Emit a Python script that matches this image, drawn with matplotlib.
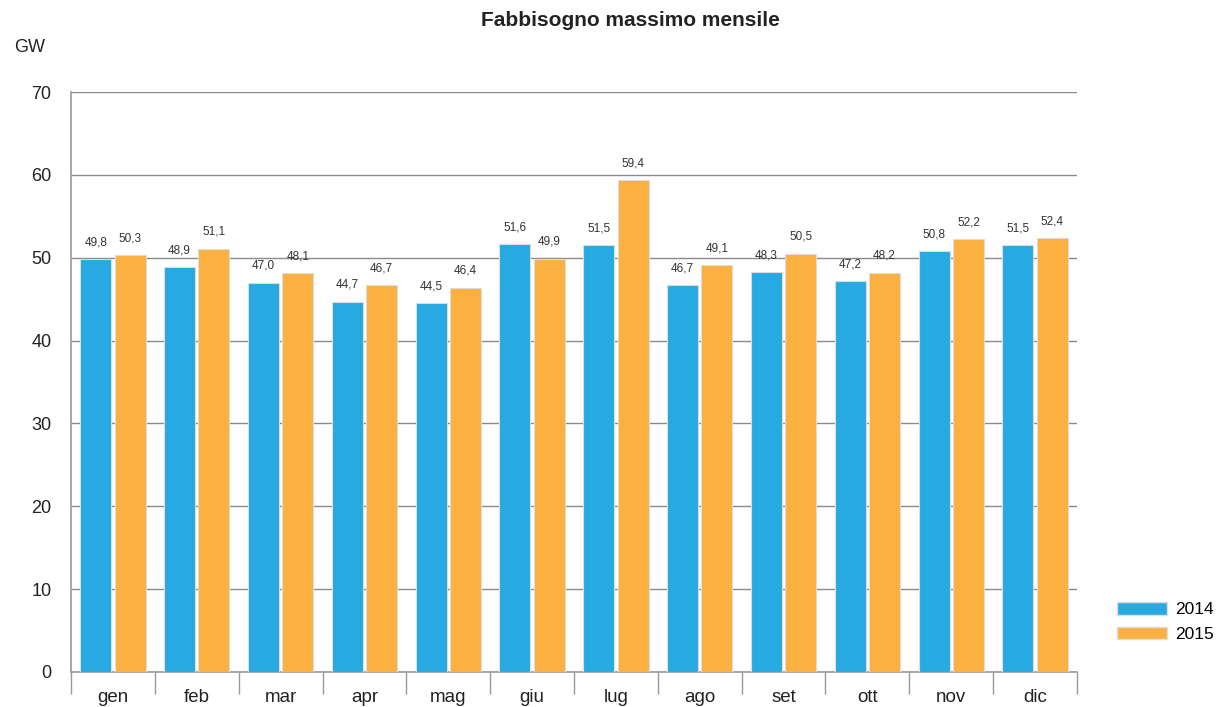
import matplotlib
matplotlib.use("Agg")
import matplotlib.pyplot as plt
import numpy as np
from matplotlib.patches import Patch

plt.rcParams['font.family'] = ['Liberation Sans', 'DejaVu Sans']

months = ["gen", "feb", "mar", "apr", "mag", "giu", "lug", "ago", "set", "ott", "nov", "dic"]
v2014 = [49.8, 48.9, 47.0, 44.7, 44.5, 51.6, 51.5, 46.7, 48.3, 47.2, 50.8, 51.5]
v2015 = [50.3, 51.1, 48.1, 46.7, 46.4, 49.9, 59.4, 49.1, 50.5, 48.2, 52.2, 52.4]
series_names = ["2014", "2015"]
yticks = [0, 10, 20, 30, 40, 50, 60, 70]

c_blue = "#27A9E1"
c_orange = "#FBB040"
c_grid = "#8a8a8a"

fig = plt.figure(figsize=(12.17, 7.07), dpi=100)
ax = fig.add_axes([71/1217, 35/707, (1077-71)/1217, (672-92)/707])

x = np.arange(len(months))
w = 0.37
off = 0.205
ax.bar(x - off, v2014, w, color=c_blue, edgecolor="#dddddd", linewidth=0.8, zorder=3)
ax.bar(x + off, v2015, w, color=c_orange, edgecolor="#dddddd", linewidth=0.8, zorder=3)

fmt = lambda v: f"{v:.1f}".replace(".", ",")
for xs, vals in ((x - off, v2014), (x + off, v2015)):
    for xi, v in zip(xs, vals):
        ax.text(xi, v + 1.3, fmt(v), ha="center", va="bottom", fontsize=8.5, color="#333333", zorder=4)

ax.set_xlim(-0.5, 11.5)
ax.set_ylim(0, 70)
ax.set_yticks(yticks)
ax.set_yticklabels([str(t) for t in yticks], fontsize=13, color="#222222")
ax.yaxis.grid(True, color=c_grid, linewidth=1.0, zorder=0)
ax.tick_params(axis="y", length=0, pad=14)

ax.set_xticks(x)
ax.set_xticklabels(months, fontsize=13.5, color="#222222")
ax.tick_params(axis="x", length=0, pad=12)
ax.set_xticks(np.arange(-0.5, 12, 1), minor=True)
ax.tick_params(axis="x", which="minor", length=16, width=1, color="#999999", direction="out")

for s in ("top", "right"):
    ax.spines[s].set_visible(False)
ax.spines["left"].set_color("#999999")
ax.spines["left"].set_linewidth(1.2)
ax.spines["bottom"].set_color("#999999")
ax.spines["bottom"].set_linewidth(1.2)

fig.text(630/1217, 1 - 20/707, "Fabbisogno massimo mensile", ha="center", va="center",
         fontsize=15, fontweight="bold", color="#222222")
fig.text(30/1217, 1 - 47/707, "GW", ha="center", va="center", fontsize=13, color="#222222")

handles = [Patch(facecolor=c_blue, edgecolor="#dddddd"), Patch(facecolor=c_orange, edgecolor="#dddddd")]
fig.legend(handles, series_names, loc="center left", bbox_to_anchor=(1107/1217, 1 - 622/707),
           frameon=False, fontsize=12.5, handlelength=2.85, handleheight=0.75, labelspacing=0.55,
           handletextpad=0.45, borderpad=0.3, borderaxespad=0.3)

fig.savefig("out.png", dpi=100, facecolor="white")
